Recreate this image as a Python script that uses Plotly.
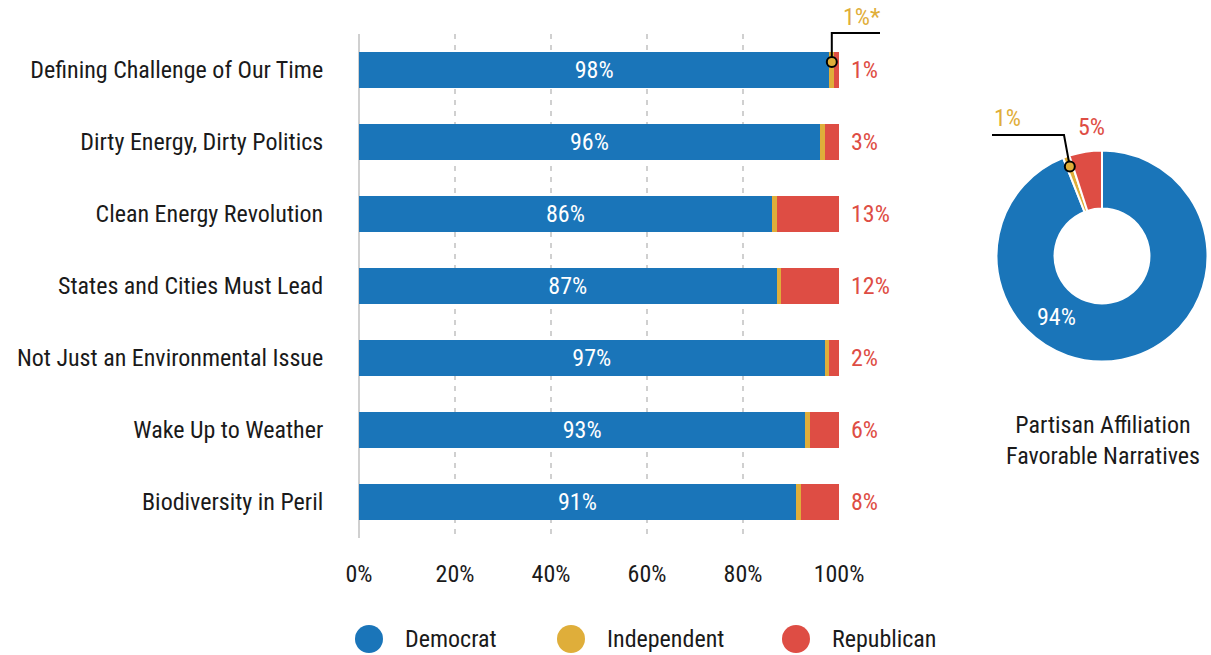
import math
import plotly.graph_objects as go

# ---------------- data ----------------
categories = [
    "Defining Challenge of Our Time",
    "Dirty Energy, Dirty Politics",
    "Clean Energy Revolution",
    "States and Cities Must Lead",
    "Not Just an Environmental Issue",
    "Wake Up to Weather",
    "Biodiversity in Peril",
]
democrat = [98, 96, 86, 87, 97, 93, 91]
independent = [1, 1, 1, 1, 1, 1, 1]
republican = [1, 3, 13, 12, 2, 6, 8]

series_names = ["Democrat", "Independent", "Republican"]
colors = ["#1A75B9", "#DFAE3A", "#DE4D44"]

donut_values = [94, 1, 5]
donut_title = "Partisan Affiliation<br>Favorable Narratives"
x_ticks = [0, 20, 40, 60, 80, 100]

# ---------------- layout helpers ----------------
W, H = 1211, 655
FONT = "Roboto Condensed, Liberation Sans Narrow, Arial Narrow, Roboto, sans-serif"
FS = 24
TXT = "#1a1a1a"
X0_PX, X1_PX = 359, 839          # plot area horizontal extent
Y0_PX, Y1_PX = 34, 538           # plot area vertical extent


def px(x):
    return x / W


def py(y):
    return 1 - y / H


def note(x, y, text, color, anchor="center"):
    return dict(x=px(x), y=py(y), xref="paper", yref="paper", text=text,
                showarrow=False, xanchor=anchor, yanchor="middle",
                font=dict(color=color, size=FS, family=FONT))


fig = go.Figure()

for name, vals, col in zip(series_names, [democrat, independent, republican], colors):
    kw = {}
    if name == "Democrat":
        kw = dict(text=[f"{v}%" for v in vals], textposition="inside",
                  insidetextanchor="middle",
                  textfont=dict(color="white", size=FS, family=FONT))
    fig.add_trace(go.Bar(
        y=categories, x=vals, name=name, orientation="h",
        marker=dict(color=col, line=dict(width=0)),
        width=0.5, showlegend=False, hoverinfo="skip", **kw))

# red labels to the right of each bar
annotations = []
for c, d, i, r in zip(categories, democrat, independent, republican):
    annotations.append(dict(x=d + i + r, y=c, xref="x", yref="y", text=f"{r}%",
                            showarrow=False, xanchor="left", yanchor="middle", xshift=10,
                            font=dict(color=colors[2], size=FS, family=FONT)))

# callout for independent share on the first bar
row_px = (Y1_PX - Y0_PX) / len(categories)
cx_bar = X0_PX + (democrat[0] + independent[0] / 2) / 100 * (X1_PX - X0_PX)
cy_bar = Y0_PX + row_px * 0.5 - 8
shapes = [
    dict(type="path", xref="paper", yref="paper",
         path=f"M {px(cx_bar)},{py(cy_bar)} L {px(cx_bar)},{py(33)} L {px(880)},{py(33)}",
         line=dict(color="black", width=2)),
    dict(type="circle", xref="paper", yref="paper",
         x0=px(cx_bar - 5), x1=px(cx_bar + 5), y0=py(cy_bar + 5), y1=py(cy_bar - 5),
         fillcolor=colors[1], line=dict(color="black", width=2)),
]
annotations.append(note(862, 17, f"{independent[0]}%*", colors[1]))

# ---------------- donut ----------------
PCX, PCY, PR = 1102, 256, 105.5
fig.add_trace(go.Pie(
    values=donut_values, labels=series_names, hole=0.45, sort=False,
    direction="clockwise", rotation=0,
    marker=dict(colors=colors, line=dict(color="white", width=2)),
    textinfo="none", hoverinfo="skip", showlegend=False,
    domain=dict(x=[px(PCX - PR), px(PCX + PR)], y=[py(PCY + PR), py(PCY - PR)])))

ang = 2 * math.pi * (donut_values[0] + donut_values[1] / 2) / 100
ccx = PCX + 95 * math.sin(ang)
ccy = PCY - 95 * math.cos(ang)
shapes += [
    dict(type="path", xref="paper", yref="paper",
         path=f"M {px(ccx)},{py(ccy)} L {px(1064)},{py(135)} L {px(992)},{py(135)}",
         line=dict(color="black", width=2)),
    dict(type="circle", xref="paper", yref="paper",
         x0=px(ccx - 5), x1=px(ccx + 5), y0=py(ccy + 5), y1=py(ccy - 5),
         fillcolor=colors[1], line=dict(color="black", width=2)),
]
annotations += [
    note(1007, 118, f"{donut_values[1]}%", colors[1]),
    note(1091, 127, f"{donut_values[2]}%", colors[2]),
    note(1056, 317, f"{donut_values[0]}%", "white"),
    note(1103, 440, donut_title, TXT),
]

# ---------------- legend (custom circles) ----------------
leg_x = [369, 571, 796]
for name, col, lx in zip(series_names, colors, leg_x):
    shapes.append(dict(type="circle", xref="paper", yref="paper",
                       x0=px(lx - 14), x1=px(lx + 14), y0=py(639 + 14), y1=py(639 - 14),
                       fillcolor=col, line=dict(width=0)))
    annotations.append(note(lx + 34, 639, name, TXT, anchor="left"))

fig.update_layout(
    width=W, height=H, barmode="stack",
    margin=dict(l=0, r=0, t=0, b=0),
    paper_bgcolor="white", plot_bgcolor="white",
    font=dict(family=FONT, color=TXT, size=FS),
    shapes=shapes, annotations=annotations,
    xaxis=dict(domain=[px(X0_PX), px(X1_PX)], range=[0, 100],
               tickvals=x_ticks, ticktext=[f"{t}%" for t in x_ticks],
               showgrid=True, gridcolor="#d0d0d0", gridwidth=2, griddash="5px,6px",
               zeroline=True, zerolinecolor="#d0d0d0", zerolinewidth=2,
               showline=False, ticks="outside", ticklen=14,
               tickcolor="rgba(0,0,0,0)", automargin=False,
               tickfont=dict(size=FS, family=FONT, color=TXT)),
    yaxis=dict(domain=[py(Y1_PX), py(Y0_PX)], autorange="reversed",
               showgrid=False, zeroline=False, showline=False,
               ticks="outside", ticklen=30, tickcolor="rgba(0,0,0,0)",
               automargin=False,
               tickfont=dict(size=FS, family=FONT, color=TXT)),
)

fig.write_html("out.html", config={"displayModeBar": False},
               post_script="document.body.style.margin='0';document.body.style.overflow='hidden';")
